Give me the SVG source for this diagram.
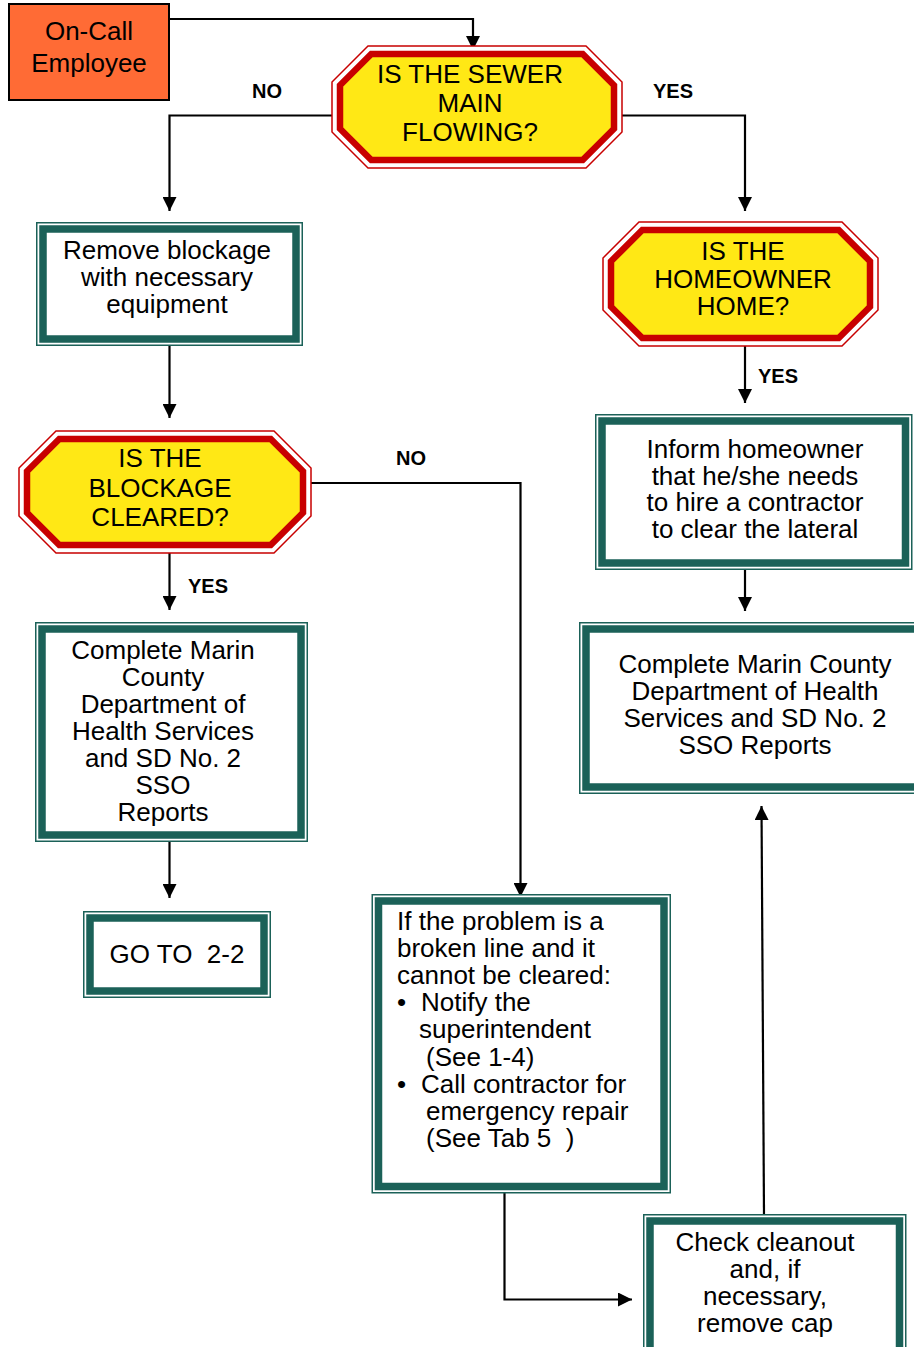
<svg xmlns="http://www.w3.org/2000/svg" width="914" height="1347" viewBox="0 0 914 1347">
<style>
text{font-family:"Liberation Sans",Arial,sans-serif;fill:#000;}
.t{font-size:26px;text-anchor:middle;}
.tl{font-size:26px;}
.lbl{font-size:20px;font-weight:bold;}
.oo{fill:#fff;stroke:#C80000;stroke-width:1.5;}
.oi{fill:#FFE815;stroke:#C80000;stroke-width:6.5;stroke-linejoin:miter;}
.bo{fill:#fff;stroke:#1B6158;stroke-width:1.5;}
.bi{fill:#fff;stroke:#1B6158;stroke-width:7.5;}
.c{fill:none;stroke:#000;stroke-width:2.2;}
</style>
<defs>
<marker id="ah" viewBox="0 0 14 14" refX="14" refY="7" markerWidth="14" markerHeight="14" orient="auto" markerUnits="userSpaceOnUse"><path d="M0,0 L14,7 L0,14 z" fill="#000"/></marker>
</defs>
<rect width="914" height="1347" fill="#fff"/>
<g id="connectors">
<polyline class="c" points="169,19 473,19 473,50" marker-end="url(#ah)"/>
<polyline class="c" points="332,115.5 169.5,115.5 169.5,211" marker-end="url(#ah)"/>
<polyline class="c" points="622,115.5 745,115.5 745,211" marker-end="url(#ah)"/>
<line class="c" x1="169.5" y1="346" x2="169.5" y2="418" marker-end="url(#ah)"/>
<polyline class="c" points="311,483 520.5,483 520.5,897" marker-end="url(#ah)"/>
<line class="c" x1="169.5" y1="553" x2="169.5" y2="610" marker-end="url(#ah)"/>
<line class="c" x1="169.5" y1="842" x2="169.5" y2="898" marker-end="url(#ah)"/>
<line class="c" x1="745" y1="346" x2="745" y2="403" marker-end="url(#ah)"/>
<line class="c" x1="745" y1="570" x2="745" y2="611" marker-end="url(#ah)"/>
<polyline class="c" points="504.5,1193 504.5,1299.5 632,1299.5" marker-end="url(#ah)"/>
<line class="c" x1="764" y1="1214" x2="761.5" y2="806" marker-end="url(#ah)"/>
<text class="lbl" x="252" y="98">NO</text>
<text class="lbl" x="653" y="98">YES</text>
<text class="lbl" x="758" y="383">YES</text>
<text class="lbl" x="396" y="465">NO</text>
<text class="lbl" x="188" y="593">YES</text>
</g>
<g id="oncall">
<rect x="9" y="4" width="160" height="96" fill="#FF6B35" stroke="#000" stroke-width="2"/>
<text class="t" x="89" y="40">On-Call</text>
<text class="t" x="89" y="72">Employee</text>
</g>
<g id="sewer">
<polygon class="oo" points="368,46 586,46 622,82 622,132 586,168 368,168 332,132 332,82"/>
<polygon class="oi" points="371.3,54 582.7,54 614,85.3 614,128.7 582.7,160 371.3,160 340,128.7 340,85.3"/>
<text class="t" x="470" y="83">IS THE SEWER</text>
<text class="t" x="470" y="112">MAIN</text>
<text class="t" x="470" y="141">FLOWING?</text>
</g>
<g id="remove">
<rect class="bo" x="36.75" y="222.75" width="265.5" height="122.5"/>
<rect class="bi" x="43" y="229" width="253" height="110"/>
<text class="t" x="167" y="259">Remove blockage</text>
<text class="t" x="167" y="286">with necessary</text>
<text class="t" x="167" y="313">equipment</text>
</g>
<g id="blockage">
<polygon class="oo" points="56,431 274,431 311,468 311,516 274,553 56,553 19,516 19,468"/>
<polygon class="oi" points="59.3,439 270.7,439 303,471.3 303,512.7 270.7,545 59.3,545 27,512.7 27,471.3"/>
<text class="t" x="160" y="467">IS THE</text>
<text class="t" x="160" y="496.5">BLOCKAGE</text>
<text class="t" x="160" y="526">CLEARED?</text>
</g>
<g id="complete-left">
<rect class="bo" x="35.75" y="622.75" width="271.5" height="218.5"/>
<rect class="bi" x="42" y="629" width="259" height="206"/>
<text class="t" x="163" y="659">Complete Marin</text>
<text class="t" x="163" y="686">County</text>
<text class="t" x="163" y="713">Department of</text>
<text class="t" x="163" y="740">Health Services</text>
<text class="t" x="163" y="767">and SD No. 2</text>
<text class="t" x="163" y="794">SSO</text>
<text class="t" x="163" y="821">Reports</text>
</g>
<g id="goto">
<rect class="bo" x="83.75" y="911.75" width="186.5" height="85.5"/>
<rect class="bi" x="90" y="918" width="174" height="73"/>
<text class="t" x="177" y="963" xml:space="preserve">GO TO  2-2</text>
</g>
<g id="homeowner">
<polygon class="oo" points="639,222 842,222 878,258 878,310 842,346 639,346 603,310 603,258"/>
<polygon class="oi" points="642.3,230 838.7,230 870,261.3 870,306.7 838.7,338 642.3,338 611,306.7 611,261.3"/>
<text class="t" x="743" y="260">IS THE</text>
<text class="t" x="743" y="288">HOMEOWNER</text>
<text class="t" x="743" y="315">HOME?</text>
</g>
<g id="inform">
<rect class="bo" x="595.75" y="414.75" width="316" height="154.5"/>
<rect class="bi" x="602" y="421" width="303.5" height="142"/>
<text class="t" x="755" y="458">Inform homeowner</text>
<text class="t" x="755" y="484.5">that he/she needs</text>
<text class="t" x="755" y="511">to hire a contractor</text>
<text class="t" x="755" y="538">to clear the lateral</text>
</g>
<g id="complete-right">
<rect class="bo" x="579.75" y="622.75" width="360" height="170.5"/>
<rect class="bi" x="586" y="629" width="350" height="158"/>
<text class="t" x="755" y="673">Complete Marin County</text>
<text class="t" x="755" y="700">Department of Health</text>
<text class="t" x="755" y="727">Services and SD No. 2</text>
<text class="t" x="755" y="754">SSO Reports</text>
</g>
<g id="problem">
<rect class="bo" x="372.25" y="894.75" width="298" height="298"/>
<rect class="bi" x="378.5" y="901" width="285.5" height="285.5"/>
<text class="tl" x="397" y="930">If the problem is a</text>
<text class="tl" x="397" y="957">broken line and it</text>
<text class="tl" x="397" y="984">cannot be cleared:</text>
<text class="tl" x="397" y="1011">•</text>
<text class="tl" x="421" y="1011">Notify the</text>
<text class="tl" x="419" y="1038">superintendent</text>
<text class="tl" x="426" y="1066">(See 1-4)</text>
<text class="tl" x="397" y="1093">•</text>
<text class="tl" x="421" y="1093">Call contractor for</text>
<text class="tl" x="426" y="1119.5">emergency repair</text>
<text class="tl" x="426" y="1147" xml:space="preserve">(See Tab 5  )</text>
</g>
<g id="check">
<rect class="bo" x="643.75" y="1214.75" width="262" height="160"/>
<rect class="bi" x="650" y="1221" width="249.5" height="150"/>
<text class="t" x="765" y="1251">Check cleanout</text>
<text class="t" x="765" y="1278">and, if</text>
<text class="t" x="765" y="1305">necessary,</text>
<text class="t" x="765" y="1332">remove cap</text>
</g>
</svg>
